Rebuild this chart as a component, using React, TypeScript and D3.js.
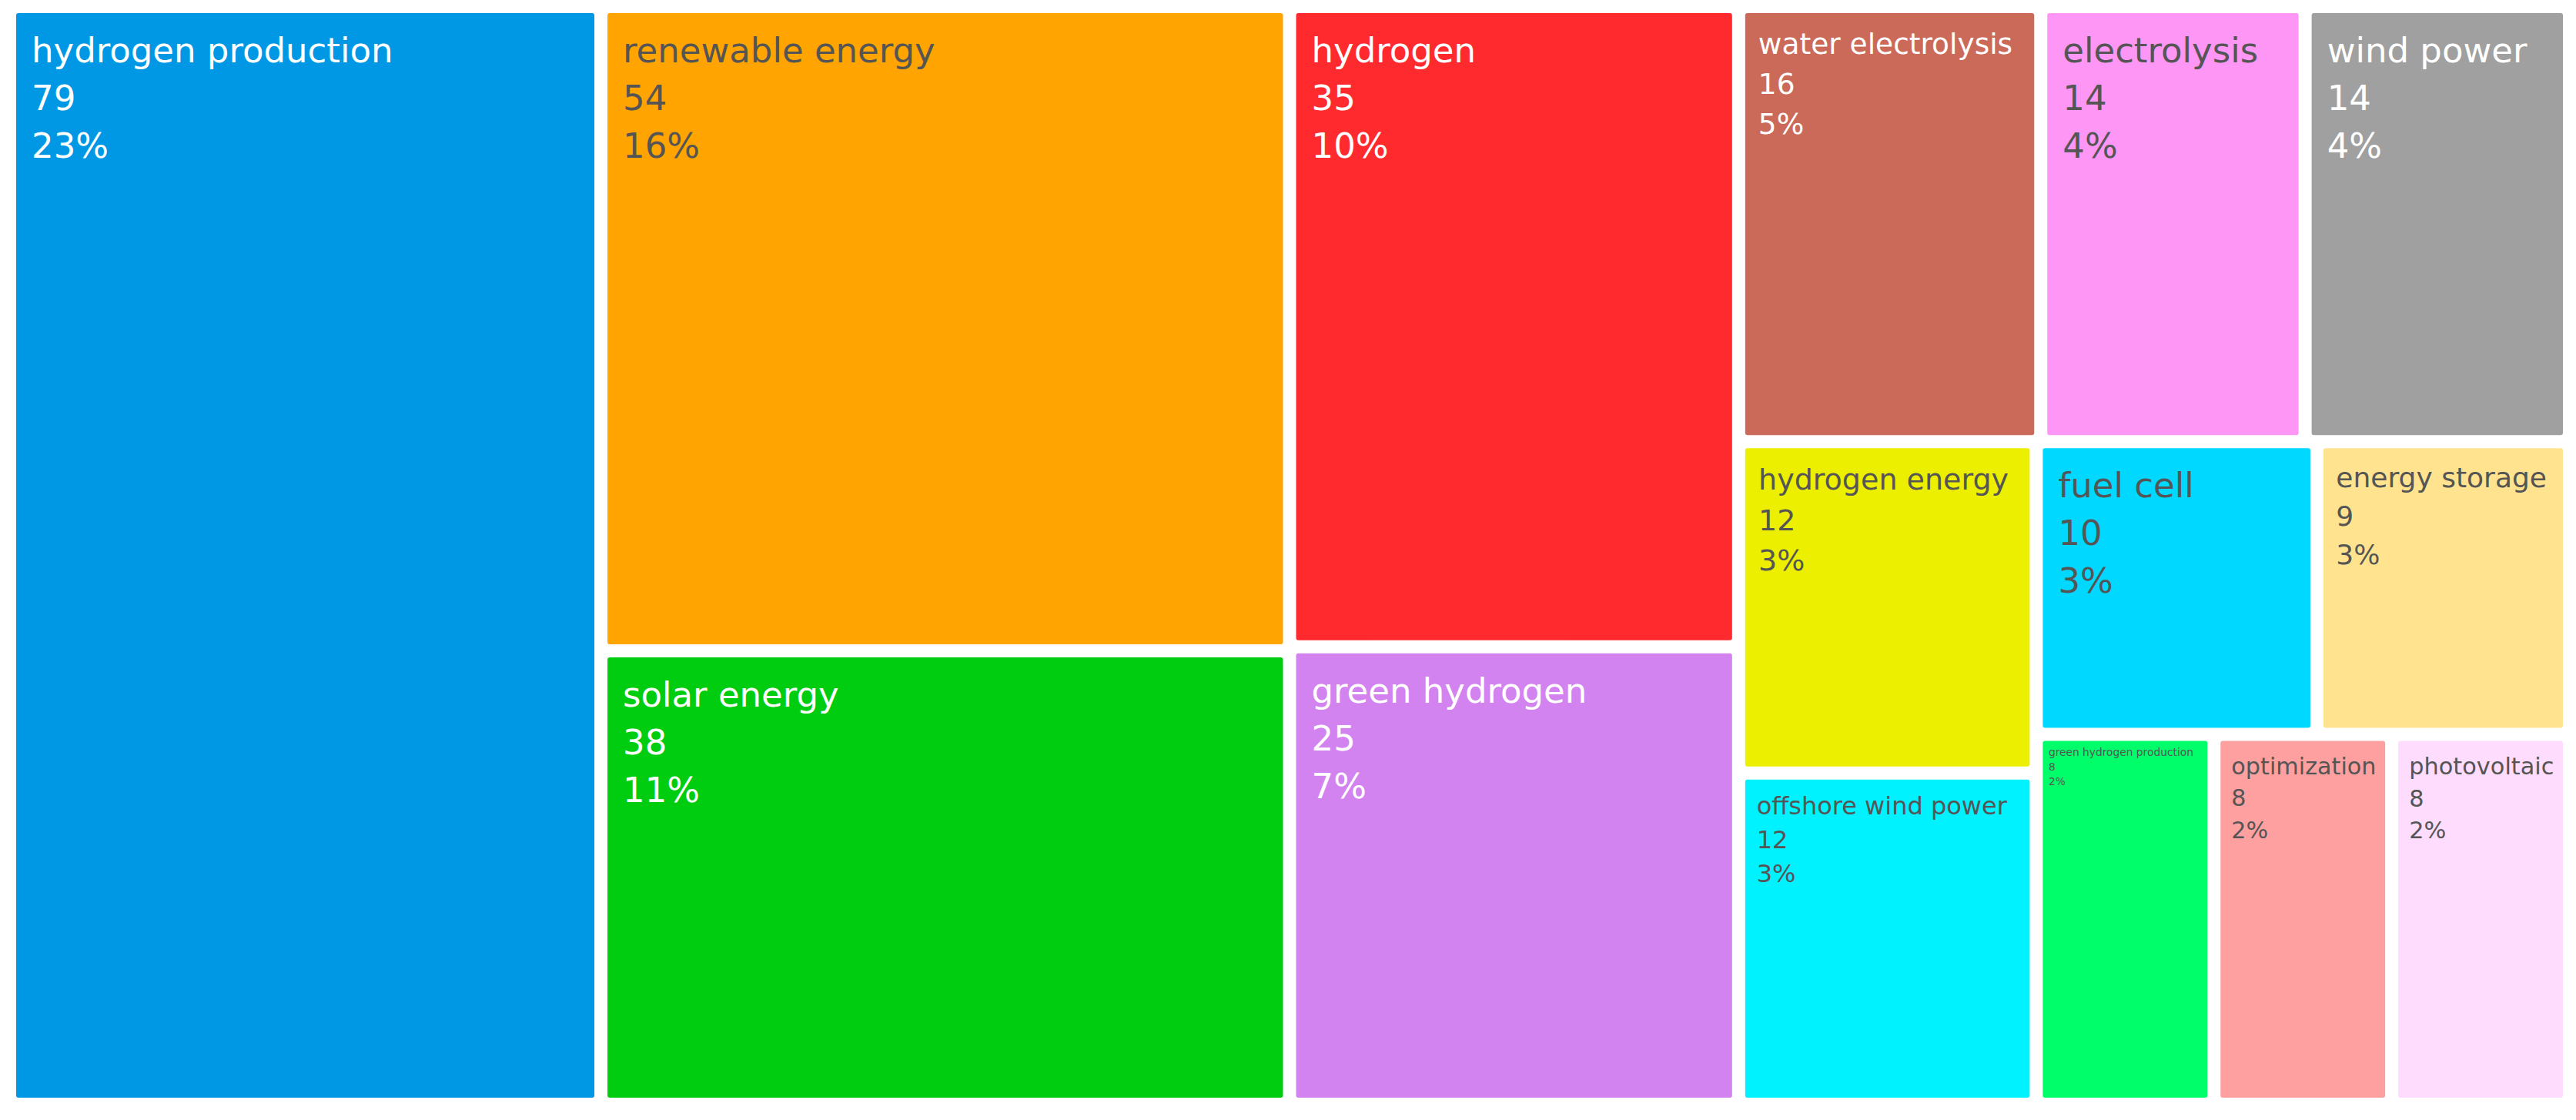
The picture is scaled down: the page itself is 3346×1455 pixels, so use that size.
import React, { useMemo } from "react";
import * as d3 from "d3";

const WIDTH = 3346;
const HEIGHT = 1455;

// keyword occurrences
const keywords = [
  "hydrogen production",
  "renewable energy",
  "solar energy",
  "hydrogen",
  "green hydrogen",
  "water electrolysis",
  "electrolysis",
  "wind power",
  "hydrogen energy",
  "offshore wind power",
  "fuel cell",
  "energy storage",
  "green hydrogen production",
  "optimization",
  "photovoltaic",
];
const counts = [79, 54, 38, 35, 25, 16, 14, 14, 12, 12, 10, 9, 8, 8, 8];
const shares = ["23%", "16%", "11%", "10%", "7%", "5%", "4%", "4%", "3%", "3%", "3%", "3%", "2%", "2%", "2%"];

const tileColors = [
  "#0098e5", "#ffa400", "#00cc10", "#ff2a2e", "#d383f0",
  "#cc6a5a", "#fd96f5", "#a0a0a0", "#ecef00", "#00f2ff",
  "#00d8ff", "#ffe38e", "#00fd6a", "#fea0a0", "#fddcfd",
];
const textColors = [
  "#ffffff", "#555555", "#ffffff", "#ffffff", "#ffffff",
  "#ffffff", "#555555", "#ffffff", "#555555", "#555555",
  "#555555", "#555555", "#555555", "#555555", "#555555",
];

const FONT = '"DejaVu Sans", Verdana, sans-serif';
const MAX_FONT = 45;
const margin = { top: 17, right: 17, bottom: 29, left: 21 };

// squarify like d3's, but equal leftovers go side by side in one strip
function squarifyTile(ratio: number) {
  return (parent: any, x0: number, y0: number, x1: number, y1: number) => {
    const nodes = parent.children;
    const n = nodes.length;
    let value = parent.value;
    let i0 = 0;
    while (i0 < n) {
      const dx = x1 - x0;
      const dy = y1 - y0;
      const rest = nodes.slice(i0);
      if (rest.length > 1 && rest.every((d: any) => d.value === rest[0].value)) {
        const row = { value, children: rest } as any;
        if (dx >= dy) d3.treemapDice(row, x0, y0, x1, y1);
        else d3.treemapSlice(row, x0, y0, x1, y1);
        break;
      }
      let i1 = i0;
      let sumValue = nodes[i1++].value;
      let minValue = sumValue;
      let maxValue = sumValue;
      const alpha = Math.max(dy / dx, dx / dy) / (value * ratio);
      let beta = sumValue * sumValue * alpha;
      let minRatio = Math.max(maxValue / beta, beta / minValue);
      for (; i1 < n; ++i1) {
        const nv = nodes[i1].value;
        sumValue += nv;
        if (nv < minValue) minValue = nv;
        if (nv > maxValue) maxValue = nv;
        beta = sumValue * sumValue * alpha;
        const newRatio = Math.max(maxValue / beta, beta / minValue);
        if (newRatio > minRatio) {
          sumValue -= nv;
          break;
        }
        minRatio = newRatio;
      }
      const row = { value: sumValue, children: nodes.slice(i0, i1) } as any;
      if (dx < dy) {
        const yy = y0 + (dy * sumValue) / value;
        d3.treemapDice(row, x0, y0, x1, yy);
        y0 = yy;
      } else {
        const xx = x0 + (dx * sumValue) / value;
        d3.treemapSlice(row, x0, y0, xx, y1);
        x0 = xx;
      }
      value -= sumValue;
      i0 = i1;
    }
  };
}

let measureCtx: CanvasRenderingContext2D | null = null;
function fitFont(label: string, width: number) {
  if (!measureCtx) measureCtx = document.createElement("canvas").getContext("2d");
  measureCtx!.font = `100px ${FONT}`;
  const em = measureCtx!.measureText(label).width / 100;
  return Math.min(MAX_FONT, (width * 0.88) / em);
}

export default function App() {
  const leaves = useMemo(() => {
    const data = {
      name: "root",
      children: keywords.map((k, i) => ({ name: k, value: counts[i], i })),
    };
    const root = d3
      .hierarchy<any>(data)
      .sum((d) => d.value ?? 0)
      .sort((a, b) => (b.value ?? 0) - (a.value ?? 0));
    d3.treemap<any>()
      .tile(squarifyTile(1.07) as any)
      .size([WIDTH - margin.left - margin.right, HEIGHT - margin.top - margin.bottom])
      .paddingInner(17)(root);
    return root.leaves() as d3.HierarchyRectangularNode<any>[];
  }, []);

  return (
    <svg
      width={WIDTH}
      height={HEIGHT}
      style={{ position: "absolute", left: 0, top: 0, background: "#ffffff" }}
    >
      <g transform={`translate(${margin.left},${margin.top})`}>
        {leaves.map((d) => {
          const i = d.data.i;
          const w = d.x1 - d.x0;
          const fs = fitFont(keywords[i], w);
          const lines = [keywords[i], String(counts[i]), shares[i]];
          return (
            <g key={keywords[i]} transform={`translate(${d.x0},${d.y0})`}>
              <rect width={w} height={d.y1 - d.y0} rx={3} fill={tileColors[i]} />
              <text fontFamily={FONT} fontSize={fs} fill={textColors[i]}>
                {lines.map((t, k) => (
                  <tspan key={k} x={fs * 0.4 + 2} y={fs * 1.42 + k * fs * 1.38}>
                    {t}
                  </tspan>
                ))}
              </text>
            </g>
          );
        })}
      </g>
    </svg>
  );
}
